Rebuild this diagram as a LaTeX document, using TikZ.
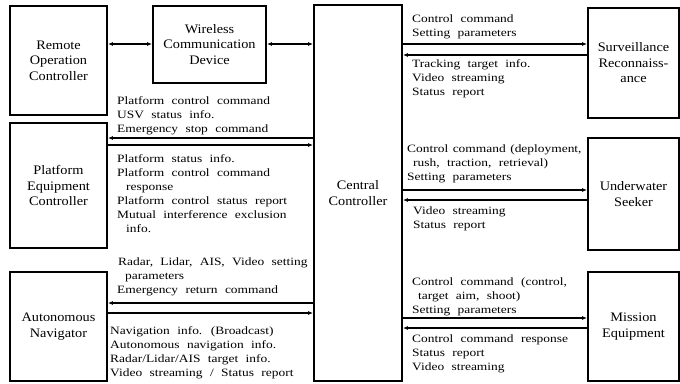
\documentclass[tikz,border=0pt]{standalone}
\usepackage{fontspec}
\setmainfont[FakeStretch=1.1]{Liberation Serif}
\newfontfamily\lblfont[FakeStretch=1.2,WordSpace=2.2]{Liberation Serif}
\usetikzlibrary{arrows.meta}
\begin{document}
\begin{tikzpicture}[x=1pt,y=-1pt,
  box/.style={draw,line width=1.8pt,align=center,inner sep=0pt,font=\fontsize{13}{15.5}\selectfont},
  lbl/.style={anchor=north west,align=left,inner sep=0pt,font=\lblfont\fontsize{11.2}{14}\selectfont},
  arr/.style={line width=1.3pt,-{Latex[length=5pt,width=4pt]}},
  darr/.style={line width=1.3pt,{Latex[length=5pt,width=4pt]}-{Latex[length=5pt,width=4pt]}}]
\useasboundingbox (0,0) rectangle (680,383);
% boxes
\node[box,minimum width=97pt,minimum height=109pt] (rem) at (58.5,60.5) {Remote\\Operation\\Controller};
\node[box,minimum width=113pt,minimum height=77pt] (wcd) at (209.5,44.5) {Wireless\\Communication\\Device};
\node[box,minimum width=88pt,minimum height=376pt] (cc) at (358,193) {Central\\Controller};
\node[box,minimum width=97pt,minimum height=125pt] (pec) at (58.5,185.5) {Platform\\Equipment\\Controller};
\node[box,minimum width=97pt,minimum height=109pt] (an) at (58.5,326.5) {Autonomous\\Navigator};
\node[box,minimum width=91pt,minimum height=110pt] (sr) at (633.5,63) {Surveillance\\Reconnaiss-\\ance};
\node[box,minimum width=91pt,minimum height=112pt] (us) at (633.5,194) {Underwater\\Seeker};
\node[box,minimum width=91pt,minimum height=109pt] (me) at (633.5,326.5) {Mission\\Equipment};
% helper levels
\coordinate (y44) at (0,44);
\coordinate (y55) at (0,55);
\coordinate (y138) at (0,138);
\coordinate (y145) at (0,145);
\coordinate (y303) at (0,303);
\coordinate (y313) at (0,313);
\coordinate (y190) at (0,190);
\coordinate (y200) at (0,200);
\coordinate (y318) at (0,318);
\coordinate (y328) at (0,328);
% connectors
\draw[darr] (rem.east |- y44) -- (wcd.west |- y44);
\draw[darr] (wcd.east |- y44) -- (cc.west |- y44);
\draw[arr] (cc.west |- y138) -- (pec.east |- y138);
\draw[arr] (pec.east |- y145) -- (cc.west |- y145);
\draw[arr] (cc.west |- y303) -- (an.east |- y303);
\draw[arr] (an.east |- y313) -- (cc.west |- y313);
\draw[arr] (cc.east |- y44) -- (sr.west |- y44);
\draw[arr] (sr.west |- y55) -- (cc.east |- y55);
\draw[arr] (cc.east |- y190) -- (us.west |- y190);
\draw[arr] (us.west |- y200) -- (cc.east |- y200);
\draw[arr] (cc.east |- y318) -- (me.west |- y318);
\draw[arr] (me.west |- y328) -- (cc.east |- y328);
% labels left
\node[lbl] (l1) at (117,96) {Platform control command\\USV status info.\\Emergency stop command};
\node[lbl] (l2) at (117,154) {Platform status info.\\Platform control command\\\hspace*{9pt}response\\Platform control status report\\Mutual interference exclusion\\\hspace*{9pt}info.};
\node[lbl] (l3) at (117,258) {\hspace*{1pt}Radar, Lidar, AIS, Video setting\\\hspace*{8pt}parameters\\Emergency return command};
\node[lbl] (l4) at (110,326) {Navigation info. (Broadcast)\\Autonomous navigation info.\\Radar/Lidar/AIS target info.\\Video streaming / Status report};
% labels right
\node[lbl] (r1) at (412,15) {Control command\\Setting parameters};
\node[lbl] (r2) at (412,59) {Tracking target info.\\Video streaming\\Status report};
\node[lbl] (r3) at (407,145) {{\spaceskip=4.5pt Control command (deployment,}\\\hspace*{6pt}rush, traction, retrieval)\\Setting parameters};
\node[lbl] (r4) at (413,207) {Video streaming\\Status report};
\node[lbl] (r5) at (412,278) {Control command (control,\\\hspace*{6pt}target aim, shoot)\\Setting parameters};
\node[lbl] (r6) at (412,335) {Control command response\\Status report\\Video streaming};
\end{tikzpicture}
\end{document}
